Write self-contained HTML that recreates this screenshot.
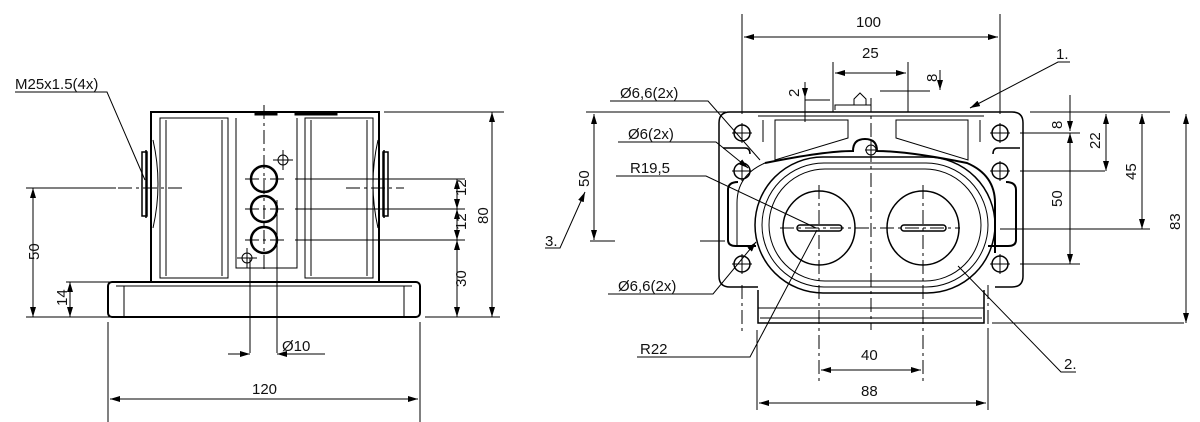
<!DOCTYPE html>
<html><head><meta charset="utf-8"><style>
html,body{margin:0;padding:0;background:#fff}
svg{display:block}
text{font-family:"Liberation Sans","DejaVu Sans",sans-serif;font-size:15px;fill:#111}
</style></head><body>
<svg width="1200" height="422" viewBox="0 0 1200 422" xmlns="http://www.w3.org/2000/svg">
<defs>
<marker id="a" viewBox="0 0 10 6" refX="10" refY="3" markerWidth="10" markerHeight="6" orient="auto-start-reverse"><path d="M0,0L10,3L0,6z" fill="#000"/></marker>
</defs>
<g stroke="#000" fill="none" stroke-width="1">
<!-- LEFT VIEW -->
<g stroke-width="2">
<rect x="151" y="112" width="228" height="170"/>
<rect x="108" y="282" width="312" height="35" rx="4"/>
</g>
<path d="M160 118h68v160h-68z M305 118h68v160h-68z"/>
<path d="M166 120v156 M222 120v156 M311 120v156 M367 120v156"/>
<path d="M236 118v150h61v-150"/>
<path d="M116 286h296 M124 286v31 M404 286v31"/>
<path d="M146 150v68 M142 152h5v64h-5z M384 150v68 M383 152h5v64h-5z" stroke-width="1.5"/>
<path d="M153 140q10 44 0 88 M378 140q-10 44 0 88"/>
<rect x="255" y="112" width="22" height="3" fill="#000"/>
<rect x="295" y="112" width="42" height="3" fill="#000"/>
<g stroke-width="2.5">
<circle cx="264" cy="179" r="13"/><circle cx="264" cy="209" r="13"/><circle cx="264" cy="240" r="13"/>
</g>
<circle cx="283" cy="160" r="5"/><path d="M283 150v20 M273 160h20"/>
<circle cx="247" cy="258" r="5"/><path d="M247 248v20 M237 258h20"/>
<g stroke-dasharray="14 4 3 4">
<path d="M264 105v168 M245 179h40 M245 209h40 M245 240h40 M118 188h64 M346 188h58"/>
</g>
<path d="M295 179h170 M295 209h170 M295 240h170"/>
<path d="M250 258v95 M277 200v153"/>
<path d="M26 317h84 M66 282h45 M425 317h75 M384 112h120"/>
<path d="M26 188h90" />
<path d="M33 188v129" marker-start="url(#a)" marker-end="url(#a)"/>
<path d="M70 282v35" marker-start="url(#a)" marker-end="url(#a)"/>
<path d="M492 112v205" marker-start="url(#a)" marker-end="url(#a)"/>
<path d="M457 179v30" marker-start="url(#a)" marker-end="url(#a)"/>
<path d="M457 209v31" marker-start="url(#a)" marker-end="url(#a)"/>
<path d="M457 240v77" marker-start="url(#a)" marker-end="url(#a)"/>
<path d="M108 322v104 M420 322v104"/>
<path d="M110 399h308" marker-start="url(#a)" marker-end="url(#a)"/>
<path d="M228 354h22" marker-end="url(#a)"/>
<path d="M325 354h-48" marker-end="url(#a)"/>
<path d="M15 92h92 L145 180"/>
<!-- RIGHT VIEW -->
<path d="M730 112H1012q11 0 11 11v153q0 11-11 11H995 M730 112q-11 0-11 11v153q0 11 11 11h28" stroke-width="1.5"/>
<path d="M758 290v33h226v-33" stroke-width="1.5"/>
<path d="M760 318h222 M758 308h226"/>
<path d="M758 116h226"/>
<path d="M763 120v22 M980 120v22"/>
<path d="M775 120h73v18l-73 22z M896 120h72v40l-72-22z"/>
<path d="M835 110v-5h36v5 M854 105v-6l6-6 6 6v6"/>
<path d="M723 148h22q5 0 5 6 M1020 148h-22q-5 0-5 6" stroke-width="1.5"/>
<path d="M738 182q-10 0-10 8v50q0 6 8 6h20 M1006 182q10 0 10 8v50q0 6-8 6h-20" stroke-width="2"/>
<path d="M765 163q60-12 88-12q0-12 12-12t12 12q30 0 90 12 q28 12 28 40v50" stroke-width="2"/>
<path d="M765 163q-28 12-28 40v43"/>
<rect x="755" y="157" width="240" height="136" rx="68" stroke-width="1.5"/>
<rect x="762" y="163" width="226" height="124" rx="62"/>
<rect x="769" y="169" width="212" height="112" rx="56"/>
<ellipse cx="819" cy="228" rx="36" ry="37" stroke-width="1.5"/>
<ellipse cx="923" cy="228" rx="36" ry="37" stroke-width="1.5"/>
<rect x="797" y="225" width="45" height="6" rx="3" stroke-width="1.5"/>
<rect x="901" y="225" width="45" height="6" rx="3" stroke-width="1.5"/>
<g stroke-width="1.5">
<circle cx="742" cy="133" r="8"/><circle cx="742" cy="171" r="8"/><circle cx="742" cy="264" r="8"/>
<circle cx="1000" cy="133" r="8"/><circle cx="1000" cy="171" r="8"/><circle cx="1000" cy="264" r="8"/>
</g>
<circle cx="871" cy="150" r="5"/>
<g stroke-dasharray="14 4 3 4">
<path d="M871 98v232 M819 185v200 M923 185v200 M780 228h180 M742 285v50 M988 285v50"/>
</g>
<path d="M732 133h20 M742 123v20 M732 171h20 M742 161v20 M732 264h20 M742 254v20 M990 133h20 M1000 123v20 M990 171h20 M1000 161v20 M990 264h20 M1000 254v20 M865 150h12 M871 144v12"/>
<path d="M742 14v100 M1000 14v100"/>
<path d="M744 37h254" marker-start="url(#a)" marker-end="url(#a)"/>
<path d="M833 62v50 M908 62v50"/>
<path d="M835 73h71" marker-start="url(#a)" marker-end="url(#a)"/>
<path d="M805 100h25 M805 98v24" />
<path d="M805 82v16" marker-end="url(#a)"/>
<path d="M880 91h50 M940 70v20" marker-end="url(#a)"/>
<path d="M586 112h140 M1030 112h140"/>
<path d="M1020 133h60 M1020 171h85 M1020 264h60 M1000 229h150 M992 323h192 M700 241h25"/>
<path d="M594 114v126" marker-start="url(#a)" marker-end="url(#a)"/>
<path d="M590 241h25"/>
<path d="M1070 95v36" marker-end="url(#a)"/>
<path d="M1070 133v131" marker-start="url(#a)" marker-end="url(#a)"/>
<path d="M1106 114v57" marker-start="url(#a)" marker-end="url(#a)"/>
<path d="M1142 114v115" marker-start="url(#a)" marker-end="url(#a)"/>
<path d="M1186 114v209" marker-start="url(#a)" marker-end="url(#a)"/>
<path d="M757 330v80 M988 330v80"/>
<path d="M821 370h100" marker-start="url(#a)" marker-end="url(#a)"/>
<path d="M759 403h227" marker-start="url(#a)" marker-end="url(#a)"/>
<path d="M610 101h98L760 160"/>
<path d="M618 142h98L748 168" marker-end="url(#a)"/>
<path d="M616 176h90L816 228"/>
<path d="M608 294h105L756 242" marker-end="url(#a)"/>
<path d="M637 357h113L817 230"/>
<path d="M1070 62h-12L970 108" marker-end="url(#a)"/>
<path d="M1076 372h-15L958 266"/>
<path d="M545 248h15L585 192" marker-end="url(#a)"/>
</g>
<text x="15" y="89">M25x1.5(4x)</text>
<text x="252" y="394">120</text>
<text x="282" y="351">Ø10</text>
<text transform="translate(39,260) rotate(-90)">50</text>
<text transform="translate(67,306) rotate(-90)">14</text>
<text transform="translate(466,196) rotate(-90)">12</text>
<text transform="translate(466,230) rotate(-90)">12</text>
<text transform="translate(466,287) rotate(-90)">30</text>
<text transform="translate(488,224) rotate(-90)">80</text>
<text x="856" y="27">100</text>
<text x="862" y="58">25</text>
<text transform="translate(799,97) rotate(-90)">2</text>
<text transform="translate(937,82) rotate(-90)">8</text>
<text x="620" y="98">Ø6,6(2x)</text>
<text x="628" y="139">Ø6(2x)</text>
<text x="630" y="173">R19,5</text>
<text x="618" y="291">Ø6,6(2x)</text>
<text x="640" y="354">R22</text>
<text x="1056" y="59">1.</text>
<text x="1064" y="369">2.</text>
<text x="545" y="246">3.</text>
<text transform="translate(589,187) rotate(-90)">50</text>
<text transform="translate(1062,129) rotate(-90)">8</text>
<text transform="translate(1100,149) rotate(-90)">22</text>
<text transform="translate(1062,207) rotate(-90)">50</text>
<text transform="translate(1136,180) rotate(-90)">45</text>
<text transform="translate(1180,230) rotate(-90)">83</text>
<text x="861" y="360">40</text>
<text x="861" y="396">88</text>
</svg>
</body></html>
